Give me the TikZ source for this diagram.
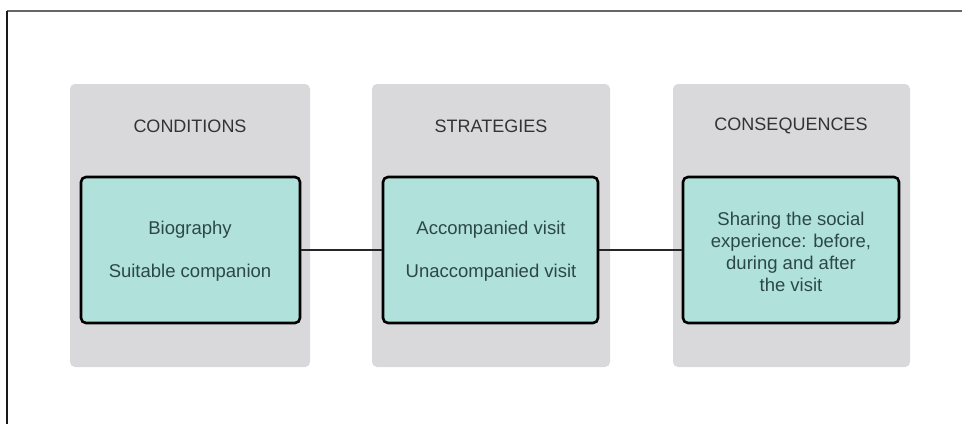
\documentclass[tikz,border=0pt]{standalone}
\usepackage{fontspec}
\setmainfont{Liberation Sans}
\definecolor{panelgray}{HTML}{D9D8DB}
\definecolor{tealfill}{HTML}{B1E1DB}
\definecolor{headtext}{HTML}{333333}
\definecolor{bodytext}{HTML}{2B4847}
\begin{document}
\begin{tikzpicture}[x=1pt,y=-1pt,
  panel/.style={fill=panelgray, draw=none, rounded corners=5pt},
  inner/.style={fill=tealfill, draw=black, line width=2.6pt, rounded corners=5pt},
  head/.style={text=headtext, font=\fontsize{18}{21}\selectfont},
  body/.style={text=bodytext, font=\fontsize{18.5}{22}\selectfont, align=center},
  link/.style={draw=black!85, line width=2.4pt}]
\useasboundingbox (0,0) rectangle (962,424);
\fill[white] (0,0) rectangle (962,424);
% frame
\coordinate (ftl) at (7,11);
\coordinate (ftr) at (962,11);
\coordinate (fbl) at (7,424);
\draw[draw=black!60, line width=2pt] (ftl) -- (ftr);
\draw[draw=black!90, line width=2pt] (ftl) -- (fbl);
% panels
\path[panel] (70,84) rectangle (310,367);
\path[panel] (372,84) rectangle (610,367);
\path[panel] (673,84) rectangle (910,367);
% headings
\node[head] (h1) at (190,126) {CONDITIONS};
\node[head] (h2) at (491,126) {STRATEGIES};
\node[head] (h3) at (791,126) {CONSEQUENCES};
% inner boxes
\node[inner, minimum width=219pt, minimum height=146pt] (b1) at (190.5,250) {};
\node[inner, minimum width=215pt, minimum height=146pt] (b2) at (490.5,250) {};
\node[inner, minimum width=216pt, minimum height=146pt] (b3) at (791,250) {};
% texts
\node[body] (t1a) at (190,230) {Biography};
\node[body] (t1b) at (190,273) {Suitable companion};
\node[body] (t2a) at (491,230) {Accompanied visit};
\node[body] (t2b) at (491,273) {Unaccompanied visit};
\node[body] (t3) at (791,252) {Sharing the social\\experience: before,\\during and after\\the visit};
% connectors
\draw[link] (b1.east) -- (b2.west);
\draw[link] (b2.east) -- (b3.west);
\end{tikzpicture}
\end{document}
